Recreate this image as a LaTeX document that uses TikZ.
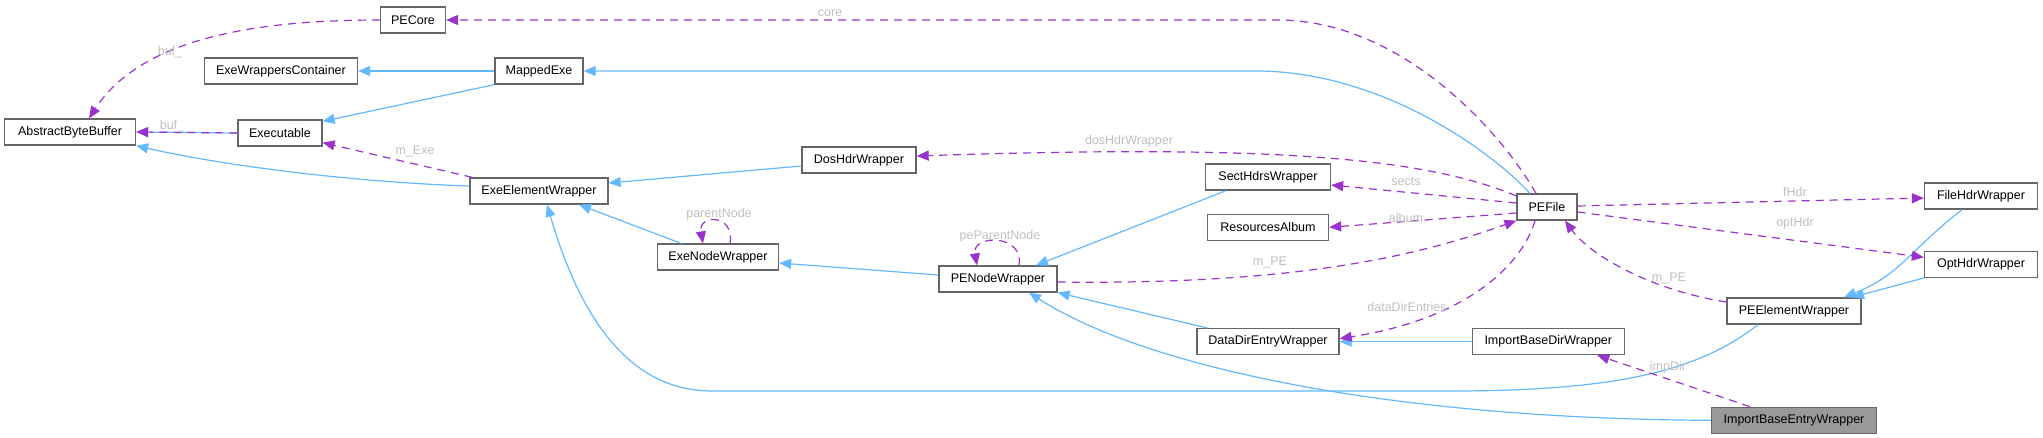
\documentclass[tikz,border=0pt]{standalone}
\usepackage{fontspec}
\setmainfont{Liberation Sans}
\usetikzlibrary{arrows.meta, positioning}
\definecolor{inhblue}{HTML}{63B8FF}
\definecolor{usepurple}{HTML}{9A32CD}
\definecolor{lblgray}{HTML}{BEBEBE}
\definecolor{boxgray}{HTML}{666666}
\definecolor{curgray}{HTML}{999999}
\tikzset{
    box/.style={draw=boxgray, line width=1.3pt, fill=white, align=center, font=\fontsize{12.5}{14}\selectfont, minimum height=26pt, inner sep=2pt},
    curbox/.style={box, fill=curgray},
    arrow/.style={-{Triangle[length=12pt,width=10pt]}, line width=1.2pt, inhblue},
    dasharrow/.style={-{Triangle[length=12pt,width=10pt]}, dash pattern=on 8pt off 6pt, line width=1.2pt, usepurple},
    lbl/.style={text=lblgray, font=\fontsize{12.5}{14}\selectfont, inner sep=1pt}
}
\begin{document}
\begin{tikzpicture}[x=1pt, y=1pt]
        \useasboundingbox (0,0) rectangle (2043,-437);
        % classes
        \node [box, minimum width=65pt] (pecore) at (413,-20) {PECore};
        \node [box, minimum width=153pt] (wrapcont) at (281,-71) {ExeWrappersContainer};
        \node [box, minimum width=88pt] (mappedexe) at (539,-71) {MappedExe};
        \node [box, minimum width=131pt] (absbuf) at (70,-132) {AbstractByteBuffer};
        \node [box, minimum width=84pt] (executable) at (280,-133) {Executable};
        \node [box, minimum width=138pt] (elemwrap) at (539,-191) {ExeElementWrapper};
        \node [box, minimum width=114pt] (doshdr) at (859,-160) {DosHdrWrapper};
        \node [box, minimum width=121pt] (nodewrap) at (718,-257) {ExeNodeWrapper};
        \node [box, minimum width=118pt] (penode) at (998,-279) {PENodeWrapper};
        \node [box, minimum width=125pt] (secthdrs) at (1268,-177) {SectHdrsWrapper};
        \node [box, minimum width=121pt, below=23pt of secthdrs] (resalbum) {ResourcesAlbum};
        \node [box, minimum width=142pt, below=87pt of resalbum] (datadir) {DataDirEntryWrapper};
        \node [box, minimum width=152pt, right=132pt of datadir] (impdir) {ImportBaseDirWrapper};
        \node [box, minimum width=60pt] (pefile) at (1547,-207) {PEFile};
        \node [box, minimum width=113pt] (filehdr) at (1981,-196) {FileHdrWrapper};
        \node [box, minimum width=113pt, below=41pt of filehdr] (opthdr) {OptHdrWrapper};
        \node [box, minimum width=134pt] (peelem) at (1794,-311) {PEElementWrapper};
        \node [curbox, minimum width=165pt, below=82pt of peelem] (impentry) {ImportBaseEntryWrapper};

        % inheritance
        \draw [arrow] ([xshift=-17pt]pefile.north) .. controls (1490,-150) and (1380,-71) .. (1256,-71) -- (mappedexe.east);
        \draw [arrow] (mappedexe.west) -- (wrapcont.east);
        \draw [arrow] (mappedexe.south west) -- ([yshift=-2pt]executable.north east);
        \draw [arrow] (executable.west) -- (absbuf.east);
        \draw [arrow] ([yshift=5pt]elemwrap.west) .. controls (350,-182) and (220,-165) .. (absbuf.south east);
        \draw [arrow] ([yshift=-6pt]doshdr.west) -- ([yshift=8pt]elemwrap.east);
        \draw [arrow] ([xshift=-37pt]nodewrap.north) -- ([xshift=40pt]elemwrap.south);
        \draw [arrow] ([yshift=4pt]penode.west) -- ([yshift=-6pt]nodewrap.east);
        \draw [arrow] ([xshift=-42pt]secthdrs.south) -- ([xshift=38pt]penode.north);
        \draw [arrow] ([xshift=11pt]datadir.north west) -- (penode.south east);
        \draw [arrow] (impentry.west) .. controls (1400,-419) and (1150,-370) .. ([xshift=31pt]penode.south);
        \draw [arrow] ([xshift=-36pt]peelem.south) .. controls (1700,-370) and (1620,-391) .. (1450,-391) -- (712,-391) .. controls (620,-391) and (575,-300) .. ([xshift=8pt]elemwrap.south);
        \draw [arrow] (impdir.west) -- (datadir.east);
        \draw [arrow] ([xshift=-19pt]filehdr.south) .. controls (1910,-250) and (1900,-275) .. ([xshift=50pt]peelem.north);
        \draw [arrow] (opthdr.south west) -- ([xshift=58pt]peelem.north);

        % members
        \draw [dasharrow] ([xshift=-11pt]pefile.north) .. controls (1500,-130) and (1400,-20) .. (1278,-20) -- (pecore.east);
        \draw [dasharrow] (pecore.west) .. controls (250,-20) and (140,-40) .. ([xshift=19pt]absbuf.north);
        \draw [dasharrow] (executable.west) -- (absbuf.east);
        \draw [dasharrow] ([xshift=3pt]elemwrap.north west) -- ([yshift=4pt]executable.south east);
        \draw [dasharrow] ([xshift=12pt]nodewrap.north) to [out=80, in=100, distance=30pt] ([xshift=-15pt]nodewrap.north);
        \draw [dasharrow] ([xshift=21pt]penode.north) to [out=80, in=100, distance=32pt] ([xshift=-21pt]penode.north);
        \draw [dasharrow] ([yshift=11pt]pefile.west) .. controls (1420,-155) and (1250,-145) .. ([yshift=4pt]doshdr.east);
        \draw [dasharrow] ([yshift=4pt]pefile.west) -- ([yshift=-8pt]secthdrs.east);
        \draw [dasharrow] ([yshift=-6pt]pefile.west) -- (resalbum.east);
        \draw [dasharrow] ([yshift=-3pt]penode.east) .. controls (1300,-285) and (1420,-255) .. (pefile.south west);
        \draw [dasharrow] ([xshift=-12pt]pefile.south) .. controls (1520,-270) and (1460,-320) .. ([yshift=3pt]datadir.east);
        \draw [dasharrow] ([xshift=-44pt]impentry.north) -- ([xshift=49pt]impdir.south);
        \draw [dasharrow] ([yshift=9pt]peelem.west) .. controls (1650,-290) and (1590,-255) .. ([xshift=18pt]pefile.south);
        \draw [dasharrow] ([yshift=1pt]pefile.east) -- ([yshift=-2pt]filehdr.west);
        \draw [dasharrow] ([yshift=-5pt]pefile.east) -- ([yshift=7pt]opthdr.west);

        % member labels
        \node [lbl] (l-core) at (830,-13) {core};
        \node [lbl] (l-buf1) at (170,-52) {buf\_};
        \node [lbl] (l-buf2) at (172,-126) {buf\_};
        \node [lbl] (l-exe) at (415,-151) {m\_Exe};
        \node [lbl] (l-parent) at (719,-214) {parentNode};
        \node [lbl] (l-peparent) at (1000,-236) {peParentNode};
        \node [lbl] (l-dos) at (1129,-141) {dosHdrWrapper};
        \node [lbl] (l-sects) at (1406,-182) {sects};
        \node [lbl] (l-album) at (1406,-218) {album};
        \node [lbl] (l-pe1) at (1270,-262) {m\_PE};
        \node [lbl] (l-dde) at (1407,-307) {dataDirEntries};
        \node [lbl] (l-imp) at (1668,-367) {impDir};
        \node [lbl] (l-pe2) at (1669,-278) {m\_PE};
        \node [lbl] (l-fhdr) at (1795,-192) {fHdr};
        \node [lbl] (l-opt) at (1795,-223) {optHdr};
    \end{tikzpicture}
\end{document}
